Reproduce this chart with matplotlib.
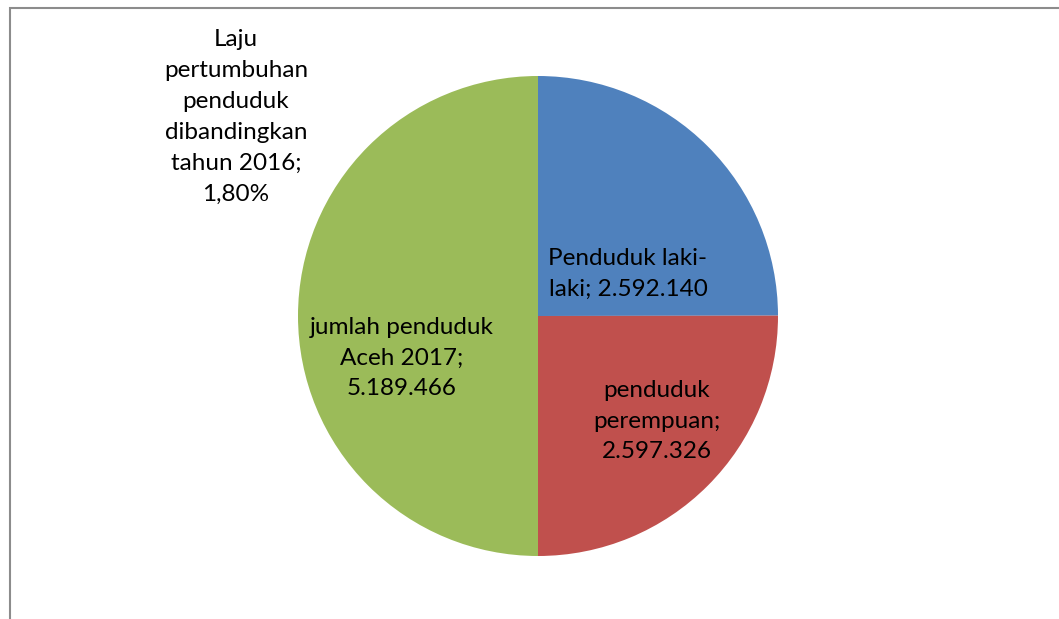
import matplotlib.pyplot as plt
from matplotlib.patches import Rectangle

categories = ['Penduduk laki-laki', 'penduduk perempuan', 'jumlah penduduk Aceh 2017',
              'Laju pertumbuhan penduduk dibandingkan tahun 2016']
values = [2592140, 2597326, 5189466, 1.80]
colors = ['#4F81BD', '#C0504D', '#9BBB59', '#8064A2']

W, H = 1059, 619
cx, cy, r = 538, H - 316, 240


def fmt(v):
    return f"{v:,}".replace(',', '.')


labels = [
    'Penduduk laki-\nlaki; ' + fmt(values[0]),
    'penduduk\nperempuan;\n' + fmt(values[1]),
    'jumlah penduduk\nAceh 2017;\n' + fmt(values[2]),
    'Laju\npertumbuhan\npenduduk\ndibandingkan\ntahun 2016;\n' + f"{values[3]:.2f}%".replace('.', ','),
]
# label centres in pixels (from top-left)
label_pos = [(628, 274), (657, 421), (402, 358), (236, 117)]

plt.rcParams['font.family'] = ['Lato', 'DejaVu Sans']

fig = plt.figure(figsize=(W / 100, H / 100), dpi=100)
ax = fig.add_axes([0, 0, 1, 1])
ax.pie(values, colors=colors, startangle=90, counterclock=False,
       center=(cx, cy), radius=r, wedgeprops=dict(linewidth=0))
ax.set_xlim(0, W)
ax.set_ylim(0, H)
ax.set_aspect('equal')
ax.axis('off')

for lab, (x, y) in zip(labels, label_pos):
    ax.text(x, H - y, lab, ha='center', va='center', multialignment='center',
            fontsize=17.5, color='black', linespacing=1.58)

# chart area border
fig.patches.append(Rectangle((9.5 / W, -0.1), 1.2, (H - 7.5) / H + 0.1,
                             transform=fig.transFigure, fill=False,
                             edgecolor='#8c8c8c', linewidth=1.5))

fig.savefig('out.png', dpi=100)
